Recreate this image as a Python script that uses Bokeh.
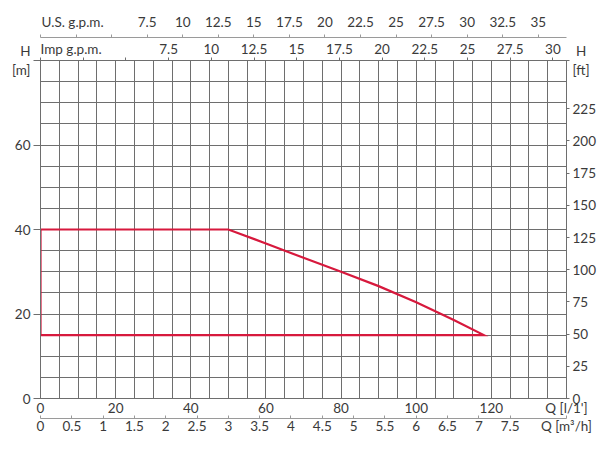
from bokeh.plotting import figure
from bokeh.models import Range1d, LinearAxis, FixedTicker
from bokeh.embed import file_html
from bokeh.resources import INLINE

# ---------------- data ----------------
# operating field of the pump: flow Q [l/min], head H [m]
field_q = [0, 0, 50, 60, 70, 80, 90, 100, 110, 118, 0]
field_h = [15, 40, 40, 36.7, 33.3, 30.0, 26.6, 22.8, 18.6, 15, 15]

q_max_lmin = 140
h_max_m = 80

lmin_ticks = [0, 20, 40, 60, 80, 100, 120]
m3h_ticks = [0, 0.5, 1, 1.5, 2, 2.5, 3, 3.5, 4, 4.5, 5, 5.5, 6, 6.5, 7, 7.5]
us_gpm_ticks = [0, 2.5, 5, 7.5, 10, 12.5, 15, 17.5, 20, 22.5, 25, 27.5, 30, 32.5, 35]
imp_gpm_ticks = [0, 2.5, 5, 7.5, 10, 12.5, 15, 17.5, 20, 22.5, 25, 27.5, 30]
hidden_gpm_labels = [0, 5]
m_ticks = [0, 20, 40, 60]
ft_ticks = [0, 25, 50, 75, 100, 125, 150, 175, 200, 225]
grid_q = list(range(0, 141, 5))
grid_h = list(range(0, 81, 5))

# axis titles (placed in free tick-label slots)
NBSP = "\u00a0"
title_us = "U.S. g.p.m."
title_imp = "Imp g.p.m."
title_lmin = "Q [l/1']"
title_m3h = "Q [m\u00b3/h]"
title_m = "H\n[m]"
title_ft = NBSP + "H\n[ft]"

# unit conversions
M3H_PER_LMIN = 60 / 1000
LITRE_PER_USGAL = 3.785411784
LITRE_PER_IMPGAL = 4.54609
M_PER_FT = 0.3048

FONT = "Lato"
FS = "13.5px"
TXT = "#3a3a3a"
GRID = "#6e6e6e"
AXL = "#9a9a9a"
RED = "#d7193d"


def fmt(v):
    return str(int(v)) if float(v).is_integer() else ("%g" % v)


def labels_for(ticks, hidden=()):
    return {t: ("" if t in hidden else fmt(t)) for t in ticks}


q_max_m3h = q_max_lmin * M3H_PER_LMIN
h_max_ft = h_max_m / M_PER_FT

p = figure(width=598, height=436,
           x_range=Range1d(0, q_max_lmin), y_range=Range1d(0, h_max_m),
           output_backend="svg", toolbar_location=None,
           min_border_left=40, min_border_right=30,
           min_border_top=60, min_border_bottom=37)
p.background_fill_color = "white"
p.border_fill_color = "white"
p.outline_line_color = GRID

p.extra_x_ranges = {
    "m3h": Range1d(0, q_max_m3h),
    "us": Range1d(0, q_max_lmin / LITRE_PER_USGAL),
    "imp": Range1d(0, q_max_lmin / LITRE_PER_IMPGAL),
}
p.extra_y_ranges = {"ft": Range1d(0, h_max_ft)}

# grid
p.xgrid.ticker = FixedTicker(ticks=grid_q)
p.ygrid.ticker = FixedTicker(ticks=grid_h)
for g in (p.xgrid, p.ygrid):
    g.grid_line_color = GRID
    g.grid_line_width = 1
    g.grid_line_alpha = 1


def style(ax, tick_out, standoff, line_color=GRID, tick_in=0):
    ax.major_tick_out = tick_out
    ax.major_tick_in = tick_in
    ax.minor_tick_out = 0
    ax.minor_tick_in = 0
    ax.major_tick_line_color = line_color
    ax.axis_line_color = line_color
    ax.major_label_standoff = standoff
    ax.major_label_text_font = FONT
    ax.major_label_text_font_size = FS
    ax.major_label_text_color = TXT
    ax.major_label_text_font_style = "normal"


# bottom: l/min (ticks fall on the grid lines)
xa = p.xaxis[0]
xa.ticker = FixedTicker(ticks=lmin_ticks + [q_max_lmin])
ov = labels_for(lmin_ticks)
ov[q_max_lmin] = title_lmin
xa.major_label_overrides = ov
style(xa, 0, 1, tick_in=3)

# bottom: m3/h
ov = labels_for(m3h_ticks)
ov[q_max_m3h] = title_m3h
ax_m3h = LinearAxis(x_range_name="m3h", ticker=FixedTicker(ticks=m3h_ticks + [q_max_m3h]),
                    major_label_overrides=ov)
style(ax_m3h, 0, -1, AXL, tick_in=3)
p.add_layout(ax_m3h, "below")

# top: Imp gpm (next to frame) then US gpm
ov = labels_for(imp_gpm_ticks, hidden_gpm_labels)
ov[2.5] = title_imp + NBSP * 7
ax_imp = LinearAxis(x_range_name="imp", ticker=FixedTicker(ticks=imp_gpm_ticks),
                    major_label_overrides=ov)
style(ax_imp, 3, 1)
p.add_layout(ax_imp, "above")

ov = labels_for(us_gpm_ticks, hidden_gpm_labels)
ov[2.5] = title_us + NBSP * 2
ax_us = LinearAxis(x_range_name="us", ticker=FixedTicker(ticks=us_gpm_ticks),
                   major_label_overrides=ov)
style(ax_us, 3, 5, AXL)
p.add_layout(ax_us, "above")

# left: m
ya = p.yaxis[0]
ya.ticker = FixedTicker(ticks=m_ticks + [h_max_m])
ov = labels_for(m_ticks)
ov[h_max_m] = title_m
ya.major_label_overrides = ov
style(ya, 7, 3)

# right: ft
ov = labels_for(ft_ticks)
ov[h_max_ft] = title_ft
ax_ft = LinearAxis(y_range_name="ft", ticker=FixedTicker(ticks=ft_ticks + [h_max_ft]),
                   major_label_overrides=ov)
style(ax_ft, 3, 3)
p.add_layout(ax_ft, "right")

# operating field
p.line(field_q, field_h, line_color=RED, line_width=2.2, line_join="miter")

open("out.html", "w").write(file_html(p, INLINE))
